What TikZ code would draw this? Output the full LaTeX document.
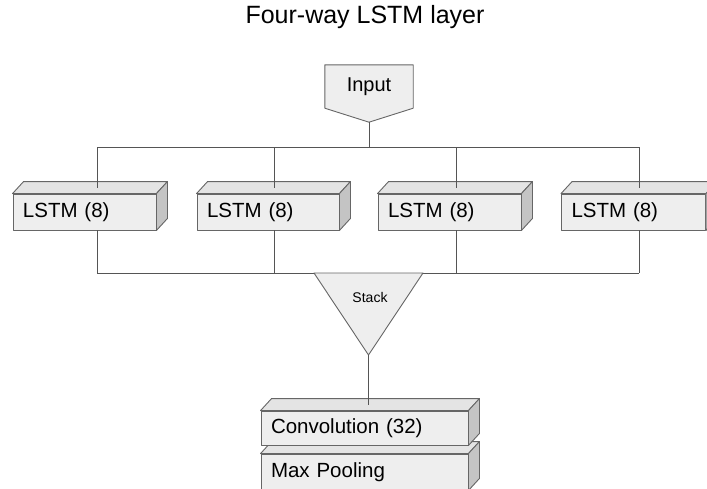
\documentclass[tikz,border=0pt]{standalone}
\usepackage{fontspec}
\setmainfont{Liberation Sans}
\definecolor{facefill}{HTML}{EEEEEE}
\definecolor{topfill}{HTML}{E4E4E4}
\definecolor{sidefill}{HTML}{C4C4C4}
\definecolor{edge}{HTML}{666666}
\definecolor{wirecol}{HTML}{555555}
\tikzset{
  wire/.style={draw=wirecol, line width=0.9pt},
  shapeline/.style={draw=edge, line width=0.9pt, line join=round},
  layer/.style={shapeline, fill=facefill, minimum height=36pt, inner xsep=10pt,
    inner ysep=0pt, align=left, anchor=center,
    font=\fontsize{20.5}{24}\selectfont},
  label/.style={inner sep=0pt, font=\fontsize{20}{24}\selectfont},
}
% top and right faces of a box whose front face is the node #1
\newcommand\boxfaces[1]{%
  \path[shapeline, fill=topfill] (#1.north west) -- ++(11,-12)
    -- ([shift={(11,-12)}]#1.north east) -- (#1.north east) -- cycle;
  \path[shapeline, fill=sidefill] (#1.north east) -- ++(11,-12)
    -- ([shift={(11,-12)}]#1.south east) -- (#1.south east) -- cycle;
}
\begin{document}
\begin{tikzpicture}[x=1pt, y=-1pt]
\useasboundingbox (0,0) rectangle (707,488);

% title
\node[inner sep=0pt, font=\fontsize{25}{30}\selectfont] (title) at (365,17) {Four-way LSTM layer};

% input (off-page connector shape)
\node[label, minimum width=88pt, minimum height=43pt] (in) at (369,86.5) {};
\coordinate (intip) at ([yshift=-14pt]in.south);
\path[shapeline, fill=facefill] (in.north west) -- (in.north east) -- (in.south east)
  -- (intip) -- (in.south west) -- cycle;
\node[label] (intext) at (in.center) {Input};

% bus coordinates
\coordinate (t1) at (97,147);  \coordinate (t2) at (274,147);
\coordinate (t3) at (456,147); \coordinate (t4) at (639,147);
\coordinate (b1) at (97,273);  \coordinate (b2) at (274,273);
\coordinate (b3) at (456,273); \coordinate (b4) at (639,273);

% LSTM layers
\node[layer, text width=123pt] (l1) at (84.5,212) {LSTM (8)};
\node[layer, text width=122pt] (l2) at (268,212) {LSTM (8)};
\node[layer, text width=123pt] (l3) at (449.5,212) {LSTM (8)};
\node[layer, text width=124pt] (l4) at (633.5,212) {LSTM (8)};
\boxfaces{l1}\boxfaces{l2}\boxfaces{l3}\boxfaces{l4}

% connectors from input to the layers
\draw[wire] (intip) -- (intip |- t1);
\draw[wire] (t1) -- (t4);
\foreach \i in {1,...,4}{
  \draw[wire] (t\i) -- ([yshift=6pt]t\i |- l\i.north);
  \draw[wire] (t\i |- l\i.south) -- (b\i);
}
\draw[wire] (b1) -- (b4);

% stack (inverted triangle)
\coordinate (sL) at (314,273);
\coordinate (sR) at (423,273);
\coordinate (sA) at (368.5,355);
\path[shapeline, fill=facefill] (sL) -- (sR) -- (sA) -- cycle;
\node[inner sep=0pt, font=\fontsize{14}{17}\selectfont] (stack) at (370,297.5) {Stack};

% convolution and pooling
\node[layer, minimum height=36pt, text width=187pt] (pool) at (364.5,472) {Max Pooling};
\boxfaces{pool}
\node[layer, minimum height=34pt, text width=187pt] (conv) at (364.5,428) {Convolution (32)};
\boxfaces{conv}
\draw[wire] (sA) -- ([yshift=6pt]sA |- conv.north);
\end{tikzpicture}
\end{document}
